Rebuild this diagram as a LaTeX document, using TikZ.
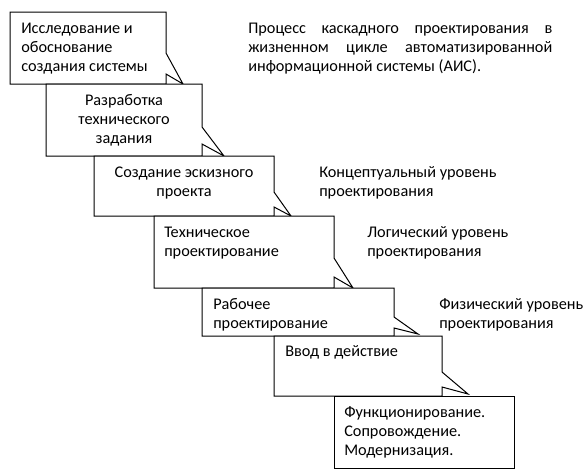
\documentclass[tikz,border=0pt]{standalone}
\usepackage{fontspec}
\setmainfont{Carlito}
\begin{document}
\begin{tikzpicture}[x=0.75pt, y=-0.75pt,
    stagebox/.style={draw=black, fill=white, line width=0.75pt, line join=miter},
    stagetext/.style={inner sep=0pt, align=left, anchor=base west,
        font=\fontsize{12.2}{14.25}\selectfont},
    leveltext/.style={stagetext}]
\useasboundingbox (0,0) rectangle (588,475);

% ========= Этапы (блоки-выноски каскадом) =========
% (координата текста -- базовая линия последней строки)
% 1
\filldraw[stagebox] (10,12) -- (166,12) -- (166,53) -- (183,84) -- (166,74)
    -- (166,84) -- (10,84) -- cycle;
\node[stagetext] (s1) at (21,71) {Исследование и\\обоснование\\создания системы};
% 2
\filldraw[stagebox] (46,84) -- (202,84) -- (202,127) -- (224,156) -- (202,144)
    -- (202,156) -- (46,156) -- cycle;
\node[stagetext, align=center, anchor=base] (s2) at (124,143)
    {Разработка\\технического\\задания};
% 3
\filldraw[stagebox] (94,156) -- (274,156) -- (274,192) -- (291,216) -- (274,207)
    -- (274,216) -- (94,216) -- cycle;
\node[stagetext, align=center, anchor=base] (s3) at (184,196)
    {Создание эскизного\\проекта};
% 4
\filldraw[stagebox] (154,216) -- (334,216) -- (334,258) -- (353,288) -- (334,277)
    -- (334,288) -- (154,288) -- cycle;
\node[stagetext] (s4) at (164,256) {Техническое\\проектирование};
% 5
\filldraw[stagebox] (202,288) -- (394,288) -- (394,317) -- (418,334) -- (394,328)
    -- (394,336) -- (202,336) -- cycle;
\node[stagetext] (s5) at (213,328) {Рабочее\\проектирование};
% 6
\filldraw[stagebox] (274,336) -- (442,336) -- (442,372) -- (468,394) -- (442,387)
    -- (442,396) -- (274,396) -- cycle;
\node[stagetext] (s6) at (285,356) {Ввод в действие};
% 7
\filldraw[stagebox] (334,396) rectangle (514,468);
\node[stagetext] (s7) at (344,455)
    {Функционирование.\\Сопровождение.\\Модернизация.};

% ========= Заголовок =========
\node[stagetext] (title) at (248,71)
    {\makebox[228pt][s]{Процесс каскадного проектирования в}\\
     \makebox[228pt][s]{жизненном цикле автоматизированной}\\
     информационной системы (АИС).};

% ========= Уровни проектирования =========
\node[leveltext] (lvl1) at (319,196) {Концептуальный уровень\\проектирования};
\node[leveltext] (lvl2) at (367,256) {Логический уровень\\проектирования};
\node[leveltext] (lvl3) at (439,328) {Физический уровень\\проектирования};
\end{tikzpicture}
\end{document}
